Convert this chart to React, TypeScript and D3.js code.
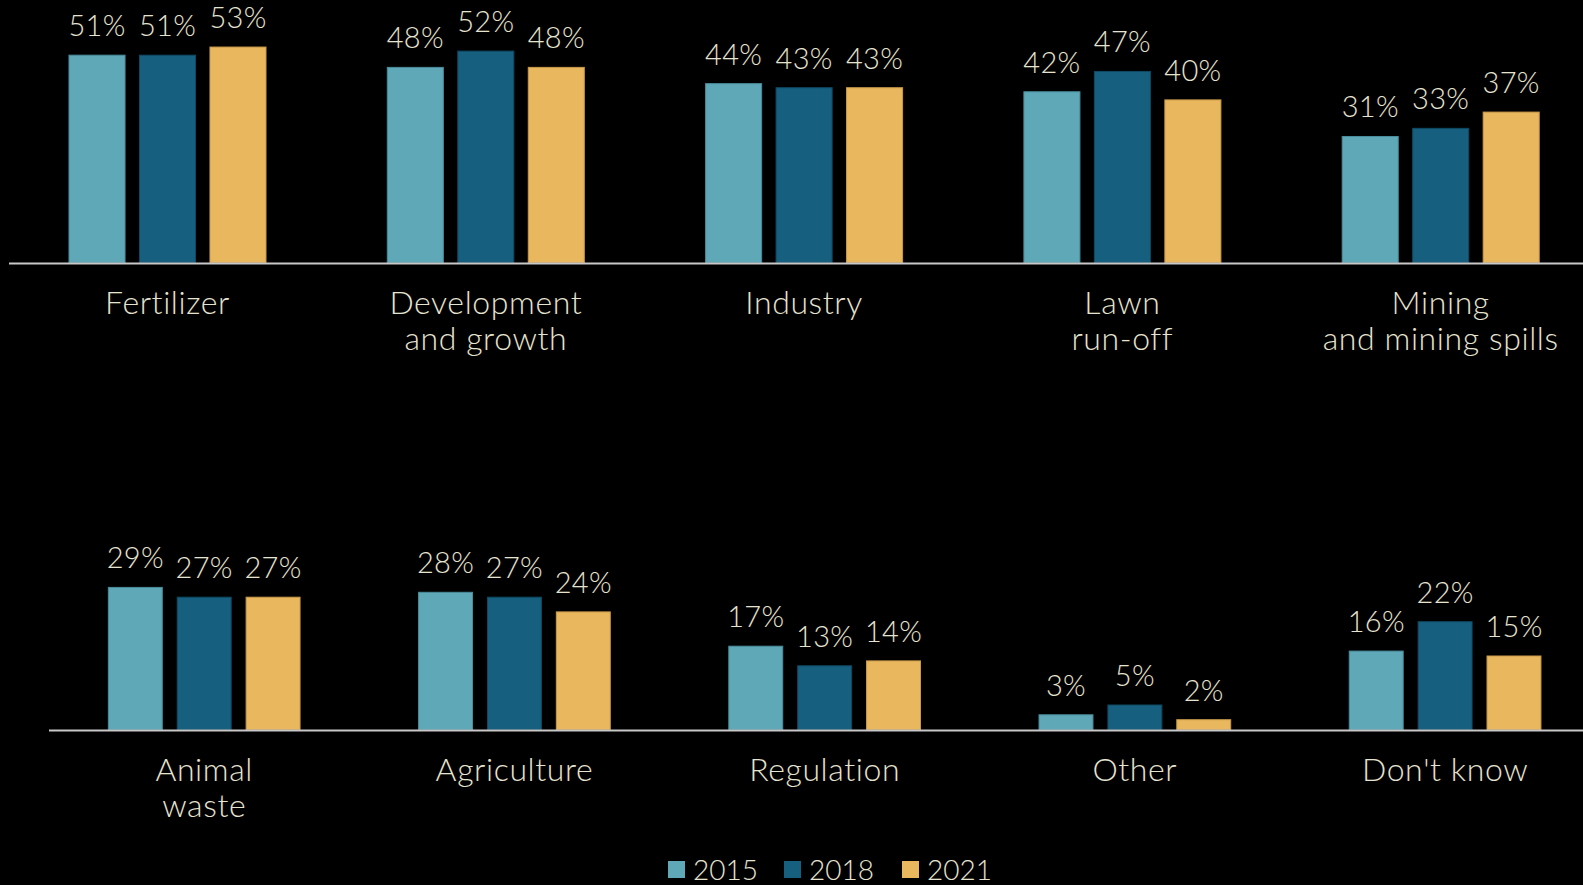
import * as d3 from "d3";

const years = ["2015", "2018", "2021"];
const colors = ["#5fa8b8", "#165f7f", "#e8b75e"];
const strokes = ["#4a8d9c", "#0f4a63", "#c9994a"];

const topCats = ["Fertilizer", "Development\nand growth", "Industry", "Lawn\nrun-off", "Mining\nand mining spills"];
const top2015 = [51, 48, 44, 42, 31];
const top2018 = [51, 52, 43, 47, 33];
const top2021 = [53, 48, 43, 40, 37];

const botCats = ["Animal\nwaste", "Agriculture", "Regulation", "Other", "Don't know"];
const bot2015 = [29, 28, 17, 3, 16];
const bot2018 = [27, 27, 13, 5, 22];
const bot2021 = [27, 24, 14, 2, 15];

const W = 1583;
const H = 885;
const textColor = "#e6e4d0";
const font = "Lato, 'Open Sans', sans-serif";

type RowProps = {
  cats: string[];
  series: number[][];
  baseline: number;
  pxPerPct: number;
  first: number;
  last: number;
  span: number;
  pad: number;
  lineStart: number;
};

const Row = ({ cats, series, baseline, pxPerPct, first, last, span, pad, lineStart }: RowProps) => {
  const xGroup = d3.scalePoint<string>().domain(cats).range([first, last]);
  const xYear = d3.scaleBand<string>().domain(years).range([-span / 2, span / 2]).paddingInner(pad);
  const y = d3.scaleLinear().domain([0, 100]).range([baseline, baseline - 100 * pxPerPct]);

  return (
    <g>
      {cats.map((c, i) => (
        <g key={c} transform={`translate(${xGroup(c)},0)`}>
          {years.map((yr, j) => {
            const v = series[j][i];
            const x = xYear(yr)!;
            return (
              <g key={yr}>
                <rect
                  x={x}
                  y={y(v)}
                  width={xYear.bandwidth()}
                  height={y(0) - y(v)}
                  fill={colors[j]}
                  stroke={strokes[j]}
                  strokeWidth={1}
                />
                <text
                  x={x + xYear.bandwidth() / 2}
                  y={y(v) - 19}
                  textAnchor="middle"
                  fill={textColor}
                  fontSize={29}
                  fontWeight={300}
                  fontFamily={font}
                  letterSpacing={0.3}
                >
                  {v}%
                </text>
              </g>
            );
          })}
          <text
            y={baseline + 51}
            textAnchor="middle"
            fill={textColor}
            fontSize={32}
            fontWeight={300}
            fontFamily={font}
            letterSpacing={0.6}
          >
            {c.split("\n").map((line, k) => (
              <tspan key={k} x={0} dy={k === 0 ? 0 : 36}>
                {line}
              </tspan>
            ))}
          </text>
        </g>
      ))}
      <line x1={lineStart} x2={W} y1={baseline + 1} y2={baseline + 1} stroke="#c8c8c8" strokeWidth={2} />
    </g>
  );
};

export default function App() {
  const legendX = [668, 784, 902];
  return (
    <svg
      width={W}
      height={H}
      style={{ position: "fixed", left: 0, top: 0, display: "block" }}
    >
      <rect width={W} height={H} fill="#000" />
      <Row
        cats={topCats}
        series={[top2015, top2018, top2021]}
        baseline={262.5}
        pxPerPct={4.065}
        first={167.5}
        last={1440.7}
        span={197}
        pad={0.205}
        lineStart={9}
      />
      <Row
        cats={botCats}
        series={[bot2015, bot2018, bot2021]}
        baseline={729.5}
        pxPerPct={4.9}
        first={204.2}
        last={1134.8 + 310.3}
        span={191.7}
        pad={0.217}
        lineStart={49}
      />
      {years.map((yr, j) => (
        <g key={yr} transform={`translate(${legendX[j]},861)`}>
          <rect width={17} height={17} fill={colors[j]} />
          <text x={25} y={19} fill={textColor} fontSize={28} fontWeight={300} fontFamily={font}>
            {yr}
          </text>
        </g>
      ))}
    </svg>
  );
}
